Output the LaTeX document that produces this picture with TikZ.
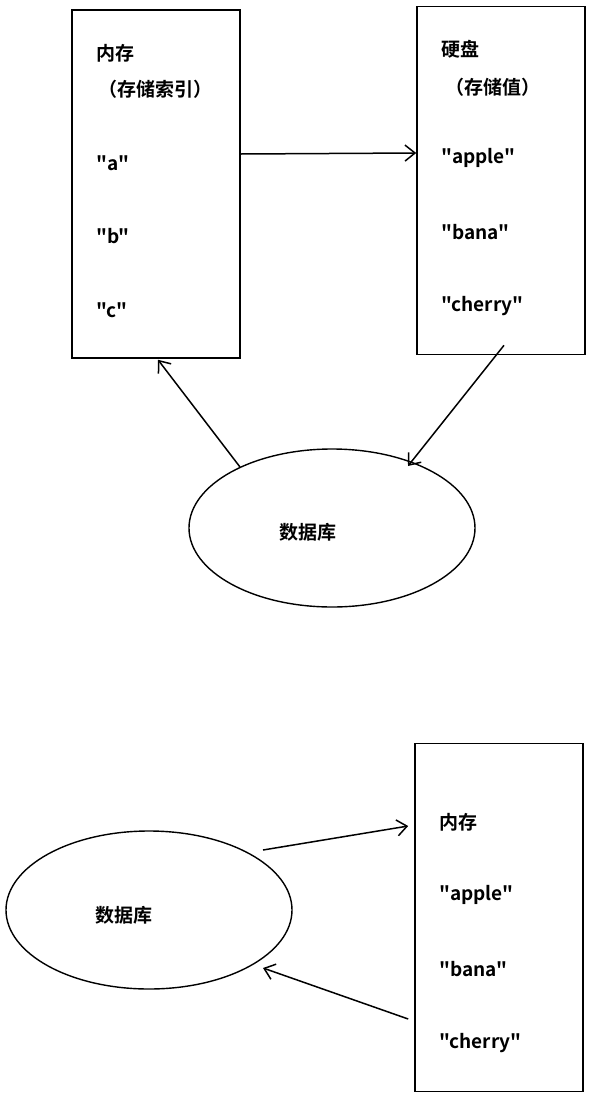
\documentclass[tikz,border=0pt]{standalone}
\usepackage{fontspec}
\setmainfont{Noto Sans CJK SC}[BoldFont={* Bold},Ligatures=TeXOff]
\usetikzlibrary{arrows.meta,shapes.geometric}
\tikzset{
  box/.style={draw, line width=1.6pt, minimum width=168pt, minimum height=348pt, inner sep=0pt},
  db/.style={draw, ellipse, line width=1.4pt, minimum width=286pt, minimum height=158pt, inner sep=0pt},
  lbl/.style={anchor=west, inner sep=0pt, font=\fontsize{19}{22}\selectfont\bfseries},
  conn/.style={line width=1.5pt, -{Straight Barb[length=10pt,width=16pt,line width=1.5pt]}}
}
\begin{document}
\begin{tikzpicture}[x=1pt,y=-1pt]
\useasboundingbox (0,0) rectangle (600,1098);
% top left box
\node[box] (mem) at (156,184) {};
\node[lbl] (m1) at (96,53) {内存};
\node[lbl] (m2) at (98,89) {（存储索引）};
\node[lbl] (ma) at (96,163) {"a"};
\node[lbl] (mb) at (96,236) {"b"};
\node[lbl] (mc) at (96,310) {"c"};
% top right box
\node[box] (disk) at (501,180.5) {};
\node[lbl] (d1) at (441,49) {硬盘};
\node[lbl] (d2) at (445,87) {（存储值）};
\node[lbl] (da) at (441,158) {"apple"};
\node[lbl] (db) at (441,232) {"bana"};
\node[lbl] (dc) at (441,306) {"cherry"};
% top ellipse
\node[db] (db1) at (332,528) {};
\node[lbl, anchor=center] (dbt1) at (308,532) {数据库};
% top connectors
\draw[conn] ([yshift=30pt]mem.east) -- ([yshift=27.5pt]disk.west);
\draw[conn] ([shift={(3pt,10pt)}]disk.south) -- ([shift={(76pt,62pt)}]db1.center);
\draw[conn] ([shift={(-92pt,61pt)}]db1.center) -- ([shift={(2pt,-1pt)}]mem.south);
% bottom box
\node[box] (mem2) at (499,917.5) {};
\node[lbl] (n1) at (439,822) {内存};
\node[lbl] (na) at (439,895) {"apple"};
\node[lbl] (nb) at (439,969) {"bana"};
\node[lbl] (nc) at (439,1043) {"cherry"};
% bottom ellipse
\node[db] (db2) at (149,910) {};
\node[lbl, anchor=center] (dbt2) at (124,915) {数据库};
% bottom connectors
\draw[conn] ([shift={(114pt,60pt)}]db2.center) -- ([shift={(-6pt,91.5pt)}]mem2.west);
\draw[conn] ([shift={(-6pt,-101.5pt)}]mem2.west) -- ([shift={(114pt,-58pt)}]db2.center);
\end{tikzpicture}
\end{document}
